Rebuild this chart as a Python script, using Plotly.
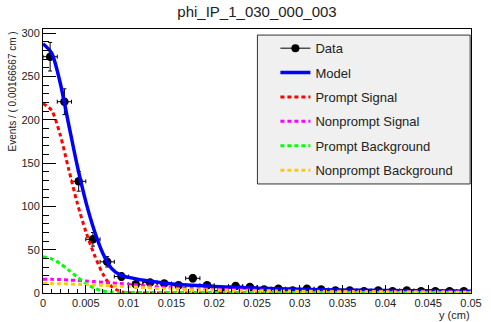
import numpy as np
import plotly.graph_objects as go

# --- binned data: 30 bins over 0 .. 0.05 cm ---
x_lo, x_hi, n_bins = 0.0, 0.05, 30
counts = [273, 221, 129, 62, 36, 19, 10, 12, 11, 9,
          17, 9, 3, 8, 7, 4, 5, 3, 5, 4,
          3, 3, 2, 3, 2, 3, 2, 2, 2, 2]

# --- fitted curves sampled along y (cm) ---
curve_x = [0.000, 0.001, 0.002, 0.003, 0.004, 0.005, 0.006, 0.007, 0.008, 0.009,
           0.010, 0.012, 0.014, 0.016, 0.018, 0.020, 0.025, 0.030, 0.035, 0.040,
           0.045, 0.050]
model = [288, 277.4, 243.2, 194.9, 147.1, 105.6, 72.0, 45.7, 28.5, 21.0,
         18.0, 14.4, 11.6, 9.8, 8.6, 7.6, 5.6, 4.2, 3.4, 2.9, 2.5, 2.1]
prompt_sig = [219, 211, 183, 143, 104, 71, 44, 22, 7.5, 1.8,
              0.3, 0, 0, 0, 0, 0, 0, 0, 0, 0, 0, 0]
nonprompt_sig = [16, 15.8, 15.5, 15.0, 14.5, 13.9, 13.2, 12.5, 11.8, 11.0,
                 10.2, 8.3, 6.7, 5.6, 4.9, 4.3, 3.2, 2.4, 1.9, 1.6, 1.4, 1.2]
prompt_bkg = [42, 39.5, 34, 26.5, 18.5, 11, 5.5, 2.3, 1.0, 0.7,
              0.6, 0.6, 0.6, 0.6, 0.6, 0.6, 0.6, 0.6, 0.6, 0.6, 0.6, 0.6]
nonprompt_bkg = [11, 10.9, 10.7, 10.4, 10.1, 9.7, 9.3, 8.9, 8.4, 7.9,
                 7.4, 6.1, 4.9, 4.2, 3.7, 3.3, 2.4, 1.8, 1.5, 1.3, 1.1, 0.9]

x_tick_vals = [0, 0.005, 0.01, 0.015, 0.02, 0.025, 0.03, 0.035, 0.04, 0.045, 0.05]
x_tick_text = ["0", "0.005", "0.01", "0.015", "0.02", "0.025", "0.03",
               "0.035", "0.04", "0.045", "0.05"]
y_tick_vals = [0, 50, 100, 150, 200, 250, 300]

edges = np.linspace(x_lo, x_hi, n_bins + 1)
centers = 0.5 * (edges[:-1] + edges[1:])
half_width = 0.5 * (edges[1] - edges[0])
errors = np.sqrt(np.array(counts, dtype=float))

FONT = "Liberation Sans, Arial, Helvetica, sans-serif"
dots = "4px,3px"

fig = go.Figure()

# data points with error bars
fig.add_trace(go.Scatter(
    x=centers, y=counts, mode="markers", showlegend=False,
    marker=dict(symbol="circle", size=8.5, color="black"),
    error_x=dict(type="constant", value=half_width, color="black", thickness=1, width=2),
    error_y=dict(type="data", array=errors, color="black", thickness=1, width=2),
))
# legend entry for the data
fig.add_trace(go.Scatter(
    x=[None], y=[None], mode="lines+markers", name="Data",
    line=dict(color="black", width=1),
    marker=dict(symbol="circle", size=8, color="black"),
))

curves = [
    ("Model", model, "#0000ff", "solid"),
    ("Prompt Signal", prompt_sig, "#ff0000", dots),
    ("Nonprompt Signal", nonprompt_sig, "#ff00ff", dots),
    ("Prompt Background", prompt_bkg, "#00ff00", dots),
    ("Nonprompt Background", nonprompt_bkg, "#ffcc00", dots),
]
for name, vals, color, dash in curves:
    fig.add_trace(go.Scatter(
        x=curve_x, y=vals, mode="lines", name=name,
        line=dict(color=color, width=3.5 if name == "Model" else 3,
                  dash=dash, shape="spline", smoothing=0.8),
    ))

# legend frame
fig.add_shape(type="rect", xref="paper", yref="paper",
              x0=0.501, x1=0.998, y0=0.413, y1=0.977,
              fillcolor="#f0f0f0", line=dict(color="#333333", width=1),
              layer="below")

fig.add_annotation(text="Events / ( 0.00166667 cm )", textangle=-90,
                   xref="paper", yref="paper", x=-0.071, y=0.997,
                   xanchor="center", yanchor="top", showarrow=False,
                   font=dict(family=FONT, size=10, color="#222"))
fig.add_annotation(text="y (cm)", xref="paper", yref="paper",
                   x=1.002, y=-0.082, xanchor="right", yanchor="middle",
                   showarrow=False, font=dict(family=FONT, size=11, color="#222"))

fig.update_layout(
    width=491, height=322,
    margin=dict(l=43, r=9, t=29, b=29),
    paper_bgcolor="white", plot_bgcolor="white",
    font=dict(family=FONT, color="#222"),
    title=dict(text="phi_IP_1_030_000_003", x=0.5, xref="paper",
               y=0.963, yref="container", xanchor="center", yanchor="middle",
               font=dict(family=FONT, size=15, color="#222")),
    legend=dict(x=0.543, y=0.984, xanchor="left", yanchor="top",
                bgcolor="rgba(0,0,0,0)", borderwidth=0,
                font=dict(family=FONT, size=13, color="#222"),
                tracegroupgap=4.5, itemwidth=30),
    showlegend=True,
)
fig.update_xaxes(range=[x_lo, x_hi], tickvals=x_tick_vals, ticktext=x_tick_text,
                 ticks="inside", ticklen=8, tickcolor="black",
                 ticklabeloverflow="allow",
                 minor=dict(dtick=0.001, ticks="inside", ticklen=4, tickcolor="black"),
                 showline=True, linecolor="black", linewidth=1, mirror=True,
                 showgrid=False, zeroline=False,
                 tickfont=dict(family=FONT, size=11, color="#222"))
fig.update_yaxes(range=[0, 305], tickvals=y_tick_vals,
                 ticks="inside", ticklen=13, tickcolor="black",
                 minor=dict(dtick=10, ticks="inside", ticklen=6, tickcolor="black"),
                 showline=True, linecolor="black", linewidth=1, mirror=True,
                 showgrid=False, zeroline=False,
                 tickfont=dict(family=FONT, size=11, color="#222"))

# one group per curve so the legend gap applies between entries
for i, tr in enumerate(fig.data):
    tr.legendgroup = f"g{i}"

fig.write_html("out.html")
